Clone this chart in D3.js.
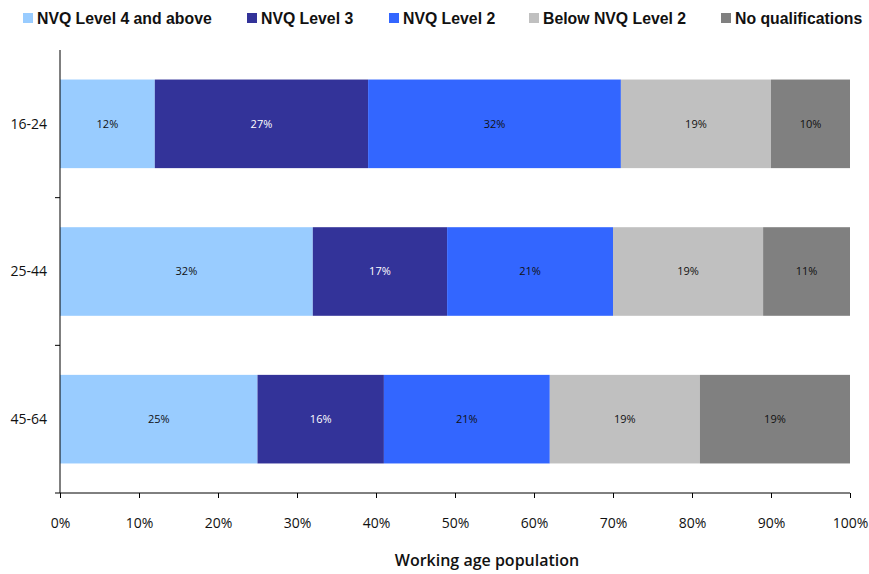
<!DOCTYPE html>
<html>
<head>
<meta charset="utf-8">
<script src="https://cdn.jsdelivr.net/npm/d3@7"></script>
<style>
  body { margin: 0; background: #fff; }
  svg { display: block; }
</style>
</head>
<body>
<script>
// Share of working age population by highest qualification, per age band
const ageGroups = ["16-24", "25-44", "45-64"];
const seriesNames = ["NVQ Level 4 and above", "NVQ Level 3", "NVQ Level 2", "Below NVQ Level 2", "No qualifications"];
const level4 = [12, 32, 25];
const level3 = [27, 17, 16];
const level2 = [32, 21, 21];
const belowLevel2 = [19, 19, 19];
const noQual = [10, 11, 19];
const xTicks = [0, 10, 20, 30, 40, 50, 60, 70, 80, 90, 100];
const colors = ["#99ccff", "#333399", "#3366ff", "#c0c0c0", "#808080"];
const labelColors = ["#111", "#fff", "#111", "#111", "#111"];

const seriesValues = [level4, level3, level2, belowLevel2, noQual];
const rows = ageGroups.map((g, i) => {
  const r = { group: g };
  seriesNames.forEach((s, k) => { r[s] = seriesValues[k][i]; });
  return r;
});

const W = 869, H = 574;
const margin = { left: 60, right: 19, top: 50, bottom: 81 };

const svg = d3.select("body").append("svg").attr("width", W).attr("height", H);

const x = d3.scaleLinear().domain([0, 100]).range([margin.left, W - margin.right]);
const y = d3.scaleBand().domain(ageGroups).range([margin.top, H - margin.bottom]).paddingInner(0.4).paddingOuter(0.2);

const stack = d3.stack().keys(seriesNames)(rows);

const layers = svg.append("g").selectAll("g").data(stack).join("g")
  .attr("fill", (d, i) => colors[i]);

layers.selectAll("rect").data(d => d).join("rect")
  .attr("x", d => x(d[0]))
  .attr("y", d => y(d.data.group))
  .attr("width", d => x(d[1]) - x(d[0]))
  .attr("height", y.bandwidth());

// value labels inside segments
stack.forEach((layer, i) => {
  svg.append("g").selectAll("text").data(layer).join("text")
    .attr("x", d => (x(d[0]) + x(d[1])) / 2)
    .attr("y", d => y(d.data.group) + y.bandwidth() / 2)
    .attr("dy", "0.35em")
    .attr("text-anchor", "middle")
    .attr("font-family", "'Open Sans', 'Noto Sans', sans-serif")
    .attr("font-size", 11)
    .attr("fill", labelColors[i])
    .text(d => (d[1] - d[0]) + "%");
});

// x axis
const xAxis = svg.append("g")
  .attr("transform", `translate(0,${H - margin.bottom})`)
  .call(d3.axisBottom(x).tickValues(xTicks).tickFormat(d => d + "%").tickSize(5).tickSizeOuter(0));
xAxis.select(".domain").attr("stroke", "#000").attr("d", `M${margin.left - 5},0H${W - margin.right}`);
xAxis.selectAll(".tick line").attr("stroke", "#000");
xAxis.selectAll("text")
  .attr("font-family", "'Open Sans', 'Noto Sans', sans-serif")
  .attr("font-size", 14).attr("fill", "#111").attr("dy", "1.9em");

// y axis with ticks on band boundaries
const yAxisG = svg.append("g").attr("transform", `translate(${margin.left},0)`);
yAxisG.append("line")
  .attr("x1", 0).attr("x2", 0)
  .attr("y1", margin.top).attr("y2", H - margin.bottom)
  .attr("stroke", "#000");
const step = y.step();
yAxisG.selectAll("line.tk").data(ageGroups.slice(1)).join("line")
  .attr("class", "tk")
  .attr("x1", -5).attr("x2", 0)
  .attr("y1", g => y(g) - step * y.paddingInner() / 2)
  .attr("y2", g => y(g) - step * y.paddingInner() / 2)
  .attr("stroke", "#000");
yAxisG.selectAll("text").data(ageGroups).join("text")
  .attr("x", -13)
  .attr("y", g => y(g) + y.bandwidth() / 2)
  .attr("dy", "0.35em")
  .attr("text-anchor", "end")
  .attr("font-family", "'Open Sans', 'Noto Sans', sans-serif")
  .attr("font-size", 14).attr("fill", "#111")
  .text(g => g);

// axis title
svg.append("text")
  .attr("x", 487)
  .attr("y", 566)
  .attr("text-anchor", "middle")
  .attr("font-family", "'Open Sans', 'Noto Sans', sans-serif")
  .attr("font-size", 16).attr("font-weight", 600).attr("fill", "#111")
  .text("Working age population");

// legend
const legendX = [23, 247, 389, 529, 721];
const legend = svg.append("g").selectAll("g").data(seriesNames).join("g")
  .attr("transform", (d, i) => `translate(${legendX[i]},13)`);
legend.append("rect").attr("width", 10).attr("height", 10).attr("fill", (d, i) => colors[i]);
legend.append("text")
  .attr("x", 14).attr("y", 5).attr("dy", "0.36em")
  .attr("font-family", "'Liberation Sans', Arial, sans-serif")
  .attr("font-size", 15.8).attr("font-weight", "bold").attr("fill", "#111")
  .text(d => d);
</script>
</body>
</html>
